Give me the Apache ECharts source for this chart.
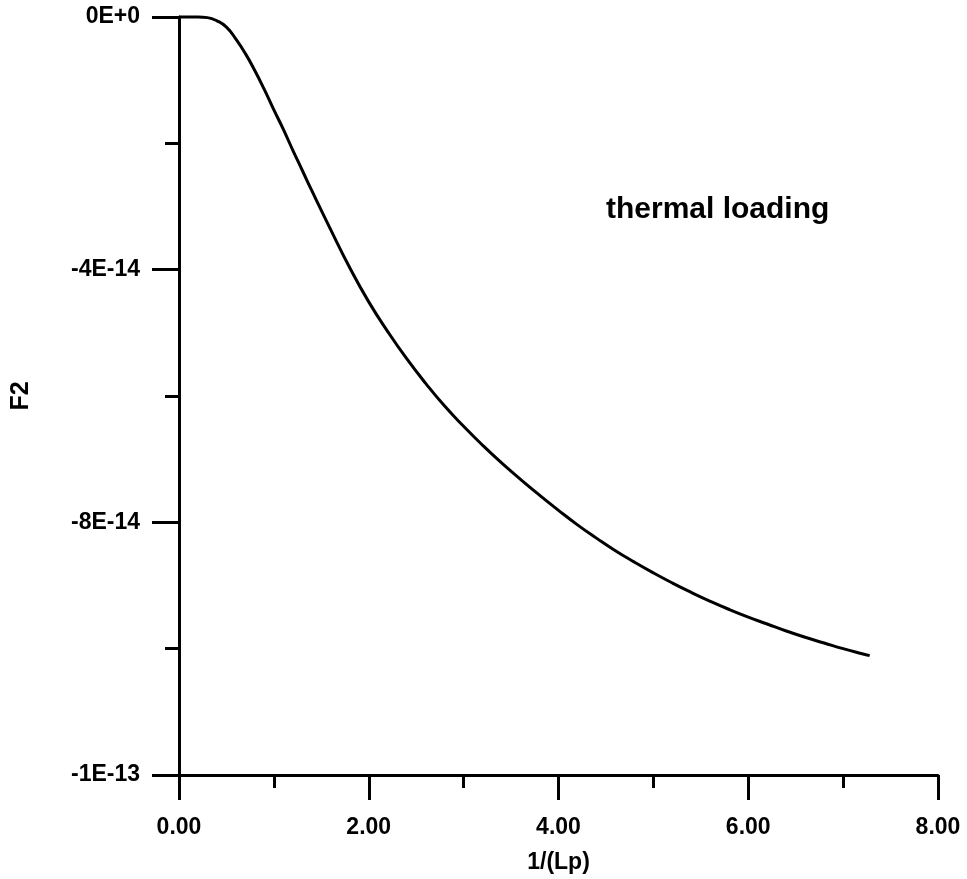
<!DOCTYPE html>
<html>
<head>
<meta charset="utf-8">
<script src="https://cdn.jsdelivr.net/npm/echarts@6/dist/echarts.min.js"></script>
<style>
  html, body { margin: 0; padding: 0; background: #fff; }
  #chart { width: 967px; height: 879px; }
</style>
</head>
<body>
<div id="chart"></div>
<script>
// x values: 1/(Lp)
var xValues = [0, 0.10, 0.20, 0.30, 0.40, 0.50, 0.60, 0.70, 0.80, 0.90, 1.00, 1.10, 1.20, 1.30, 1.40, 1.60, 1.80, 2.00, 2.20, 2.40, 2.60, 2.80, 3.00, 3.20, 3.40, 3.60, 3.80, 4.00, 4.20, 4.40, 4.60, 4.80, 5.00, 5.20, 5.40, 5.60, 5.80, 6.00, 6.20, 6.40, 6.60, 6.80, 7.00, 7.20, 7.28];
// F2 values in units of 1E-14
var f2E14 = [0, 0, 0, -0.01, -0.06, -0.16, -0.35, -0.58, -0.85, -1.15, -1.47, -1.78, -2.11, -2.43, -2.75, -3.37, -3.97, -4.51, -4.98, -5.41, -5.80, -6.16, -6.48, -6.78, -7.06, -7.32, -7.57, -7.81, -8.04, -8.25, -8.45, -8.63, -8.80, -8.96, -9.11, -9.25, -9.38, -9.50, -9.61, -9.72, -9.82, -9.91, -10.00, -10.08, -10.11];
// tick labels
var xTickValues = [0, 2, 4, 6, 8];
var xTickLabels = ['0.00', '2.00', '4.00', '6.00', '8.00'];
var yTickValues = [0, -4, -8, -12];
var yTickLabels = ['0E+0', '-4E-14', '-8E-14', '-1E-13'];
var annotation = 'thermal loading';

var FONT = '"Liberation Sans", Arial, Helvetica, sans-serif';
var data = xValues.map(function (x, i) { return [x, f2E14[i]]; });

function lookup(vals, labels, v) {
  for (var i = 0; i < vals.length; i++) {
    if (Math.abs(vals[i] - v) < 1e-9) return labels[i];
  }
  return '';
}

var axisCommon = {
  axisLine: { show: true, onZero: false, lineStyle: { color: '#000', width: 3 } },
  splitLine: { show: false },
  minorSplitLine: { show: false }
};

var chart = echarts.init(document.getElementById('chart'), null, { renderer: 'canvas' });
chart.setOption({
  backgroundColor: '#fff',
  animation: false,
  grid: { left: 179, right: 29, top: 17, bottom: 103, containLabel: false },
  xAxis: Object.assign({}, axisCommon, {
    type: 'value',
    min: 0, max: 8, interval: 2,
    name: '1/(Lp)', nameLocation: 'middle', nameGap: 76,
    nameTextStyle: { color: '#000', fontFamily: FONT, fontWeight: 'bold', fontSize: 23 },
    axisTick: { show: true, length: 25, lineStyle: { color: '#000', width: 3 } },
    minorTick: { show: true, splitNumber: 2, length: 13, lineStyle: { color: '#000', width: 3 } },
    axisLabel: {
      color: '#000', fontFamily: FONT, fontWeight: 'bold', fontSize: 23, margin: 41,
      showMinLabel: true, showMaxLabel: true,
      formatter: function (v) { return lookup(xTickValues, xTickLabels, v); }
    }
  }),
  yAxis: Object.assign({}, axisCommon, {
    type: 'value',
    min: -12, max: 0, interval: 4,
    name: 'F2', nameLocation: 'middle', nameGap: 145, nameRotate: 90,
    nameTextStyle: { color: '#000', fontFamily: FONT, fontWeight: 'bold', fontSize: 25 },
    axisTick: { show: true, length: 27, lineStyle: { color: '#000', width: 3 } },
    minorTick: { show: true, splitNumber: 2, length: 14, lineStyle: { color: '#000', width: 3 } },
    axisLabel: {
      color: '#000', fontFamily: FONT, fontWeight: 'bold', fontSize: 23, margin: 39,
      showMinLabel: true, showMaxLabel: true,
      formatter: function (v) { return lookup(yTickValues, yTickLabels, v); }
    }
  }),
  graphic: [{
    type: 'text', left: 606, top: 195,
    style: { text: annotation, fill: '#000', font: 'bold 30px ' + FONT }
  }],
  series: [{
    type: 'line',
    data: data,
    showSymbol: false,
    smooth: 0.5,
    lineStyle: { color: '#000', width: 3 },
    clip: false
  }]
});
</script>
</body>
</html>
